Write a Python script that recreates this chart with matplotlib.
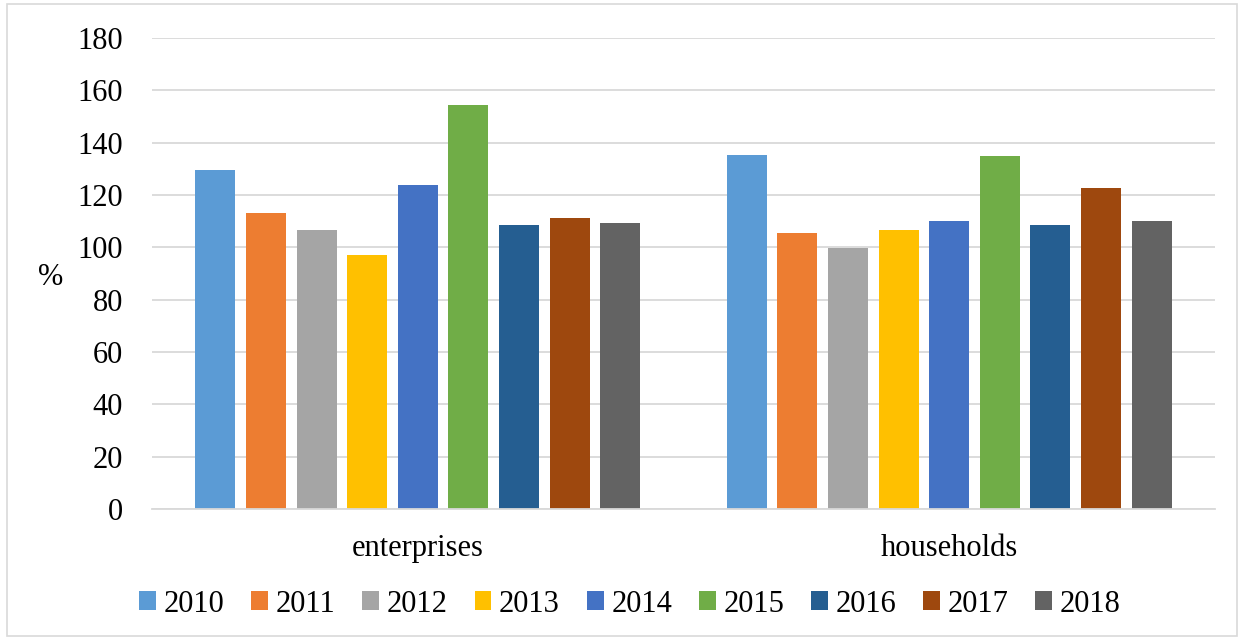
import numpy as np
import matplotlib.pyplot as plt
from matplotlib.patches import Rectangle

plt.rcParams['font.family'] = ['Liberation Serif', 'DejaVu Serif']

categories = ['enterprises', 'households']
years = ['2010', '2011', '2012', '2013', '2014', '2015', '2016', '2017', '2018']
values = {
    '2010': [129.7, 135.3],
    '2011': [113.2, 105.5],
    '2012': [106.5, 99.6],
    '2013': [96.9, 106.6],
    '2014': [124.0, 109.9],
    '2015': [154.3, 135.0],
    '2016': [108.7, 108.7],
    '2017': [111.3, 122.5],
    '2018': [109.2, 110.1],
}
colors = ['#5B9BD5', '#ED7D31', '#A5A5A5', '#FFC000', '#4472C4',
          '#70AD47', '#255E91', '#9E480E', '#636363']

fig = plt.figure(figsize=(12.42, 6.4), dpi=100)
axs = fig.add_axes([152 / 1242, 1 - 509 / 640, (1215 - 152) / 1242, (509 - 38) / 640])

x = np.arange(len(categories))
step = 0.0952
width = 0.0753
for i, y in enumerate(years):
    axs.bar(x + (i - 4) * step, values[y], width, color=colors[i], label=y, zorder=2)

axs.set_xlim(-0.5, 1.5)
axs.set_ylim(0, 180)
axs.set_yticks(np.arange(0, 181, 20))
axs.set_xticks(x)
axs.set_xticklabels(categories)
axs.grid(axis='y', color='#D9D9D9', linewidth=1.3, zorder=0)
for s in ['top', 'right', 'left']:
    axs.spines[s].set_visible(False)
axs.spines['bottom'].set_color('#D9D9D9')
axs.spines['bottom'].set_linewidth(1.3)
axs.tick_params(axis='both', length=0, labelsize=22)
axs.tick_params(axis='y', pad=21)
axs.tick_params(axis='x', pad=18)
axs.set_ylabel('%', rotation=0, fontsize=22)
axs.yaxis.set_label_coords(-0.095, 0.46)

axs.legend(loc='center', bbox_to_anchor=(630 / 1242, 1 - 604 / 640),
           bbox_transform=fig.transFigure, ncol=9, frameon=False,
           fontsize=22, handlelength=0.55, handleheight=0.55,
           handletextpad=0.25, columnspacing=0.88)

fig.patches.append(Rectangle((7 / 1242, 1 - 636 / 640), 1230 / 1242, 632 / 640,
                             transform=fig.transFigure, fill=False,
                             edgecolor='#D9D9D9', linewidth=1.2))

fig.savefig('out.png', dpi=100)
